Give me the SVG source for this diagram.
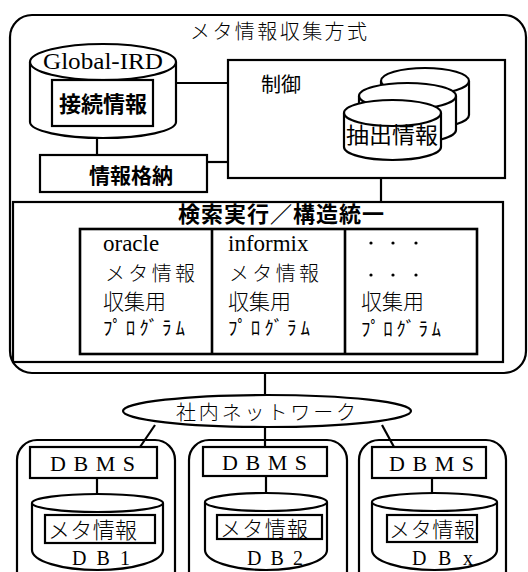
<svg xmlns="http://www.w3.org/2000/svg" width="528" height="572" viewBox="0 0 528 572">
<style>
.s{fill:none;stroke:#000;stroke-width:2.2}
.w{fill:#fff;stroke:#000;stroke-width:2.2}
.t{stroke:#000;stroke-width:2.6;fill:none}
.jp{font-family:"Noto Sans CJK JP","Noto Sans",sans-serif;fill:#000}
.jl{font-family:"Noto Sans CJK JP","Noto Sans",sans-serif;font-weight:300;fill:#000}
.jb{font-family:"Noto Sans CJK JP","Noto Sans",sans-serif;font-weight:bold;fill:#000}
.se{font-family:"Liberation Serif","Times New Roman",serif;fill:#000}
</style>
<rect width="528" height="572" fill="#fff"/>
<g id="connectors" class="s">
<line x1="176" y1="83" x2="228" y2="83"/>
<line x1="207" y1="162" x2="228" y2="162"/>
<line x1="97" y1="138" x2="97" y2="155"/>
<line x1="381" y1="178" x2="381" y2="202"/>
<line x1="265" y1="373" x2="265" y2="395"/>
<line x1="265" y1="427" x2="265" y2="447"/>
<line x1="155" y1="425" x2="140" y2="447"/>
<line x1="382" y1="425" x2="394" y2="447"/>
<line x1="97" y1="478" x2="97" y2="494"/>
<line x1="266" y1="476" x2="266" y2="494"/>
<line x1="432" y1="478" x2="432" y2="494"/>
</g>
<g id="system">
<rect class="s" x="10" y="15" width="516" height="358" rx="22"/>
<text class="jl" x="190" y="39" font-size="20" textLength="177" lengthAdjust="spacing">メタ情報収集方式</text>
</g>
<g id="global-ird">
<path class="w" d="M30,62 L30,122 A73,16 0 0 0 176,122 L176,62"/>
<ellipse class="w" cx="103" cy="62" rx="73" ry="18"/>
<text class="se" x="43" y="69" font-size="24" textLength="120" lengthAdjust="spacingAndGlyphs">Global-IRD</text>
<rect class="w" x="52" y="80" width="101" height="46"/>
<text class="jb" x="103" y="112" font-size="22" text-anchor="middle">接続情報</text>
</g>
<g id="store">
<rect class="w" x="40" y="155" width="167" height="37"/>
<text class="jb" x="131" y="183" font-size="21" text-anchor="middle">情報格納</text>
</g>
<g id="control">
<rect class="w" x="228" y="60" width="277" height="118"/>
<text class="jp" x="261" y="92" font-size="20">制御</text>
<path class="w" d="M381,81 L381,115 A44,13 0 0 0 469,115 L469,81"/>
<ellipse class="w" cx="425" cy="81" rx="44" ry="13"/>
<path class="w" d="M359,96 L359,130 A48.5,13 0 0 0 456,130 L456,96"/>
<ellipse class="w" cx="407.5" cy="96" rx="48.5" ry="13"/>
<path class="w" d="M344,113 L344,147 A48.5,13 0 0 0 441,147 L441,113"/>
<ellipse class="w" cx="392.5" cy="113" rx="48.5" ry="13"/>
<text class="jp" x="346" y="143" font-size="22" textLength="92" lengthAdjust="spacingAndGlyphs">抽出情報</text>
</g>
<g id="search">
<rect class="s" x="13" y="202" width="490" height="160"/>
<text class="jb" x="178" y="222" font-size="22" textLength="206" lengthAdjust="spacing">検索実行／構造統一</text>
<rect class="t" x="80" y="229" width="397" height="125"/>
<line class="t" x1="212" y1="229" x2="212" y2="354"/>
<line class="t" x1="345" y1="229" x2="345" y2="354"/>
</g>
<g id="col-oracle">
<text class="se" x="103" y="251" font-size="23">oracle</text>
<text class="jl" x="105" y="281" font-size="20" textLength="90" lengthAdjust="spacing">メタ情報</text>
<text class="jl" x="103" y="309" font-size="21">収集用</text>
<text class="jp" x="103" y="335" font-size="19" textLength="82" lengthAdjust="spacing">ﾌﾟﾛｸﾞﾗﾑ</text>
</g>
<g id="col-informix">
<text class="se" x="228" y="251" font-size="23">informix</text>
<text class="jl" x="229" y="281" font-size="20" textLength="90" lengthAdjust="spacing">メタ情報</text>
<text class="jl" x="228" y="309" font-size="21">収集用</text>
<text class="jp" x="228" y="335" font-size="19" textLength="82" lengthAdjust="spacing">ﾌﾟﾛｸﾞﾗﾑ</text>
</g>
<g id="col-other">
<circle cx="371" cy="243" r="1.6"/><circle cx="393" cy="243" r="1.6"/><circle cx="416" cy="243" r="1.6"/>
<circle cx="371" cy="275" r="1.6"/><circle cx="393" cy="275" r="1.6"/><circle cx="416" cy="275" r="1.6"/>
<text class="jl" x="361" y="309" font-size="21">収集用</text>
<text class="jp" x="361" y="336" font-size="19" textLength="80" lengthAdjust="spacing">ﾌﾟﾛｸﾞﾗﾑ</text>
</g>
<g id="network">
<ellipse class="w" cx="267" cy="411" rx="144" ry="16"/>
<text class="jl" x="176" y="420" font-size="20" textLength="180" lengthAdjust="spacing">社内ネットワーク</text>
</g>
<g id="db1">
<rect class="s" x="17" y="440" width="158" height="170" rx="20"/>
<rect class="w" x="30" y="447" width="127" height="31"/>
<text class="se" x="50" y="471" font-size="22" textLength="85" lengthAdjust="spacing">DBMS</text>
<path class="w" d="M32,503 L32,550 A65.5,20 0 0 0 163,550 L163,503"/>
<ellipse class="w" cx="97.5" cy="503" rx="65.5" ry="9"/>
<rect class="w" x="45" y="515" width="110" height="28"/>
<text class="jl" x="48" y="538" font-size="22" textLength="89" lengthAdjust="spacing">メタ情報</text>
<text class="se" x="72" y="565" font-size="20" textLength="58" lengthAdjust="spacing">DB1</text>
</g>
<g id="db2">
<rect class="s" x="189" y="440" width="158" height="170" rx="20"/>
<rect class="w" x="203" y="447" width="124" height="29"/>
<text class="se" x="222" y="470" font-size="22" textLength="85" lengthAdjust="spacing">DBMS</text>
<path class="w" d="M205,502 L205,550 A61,20 0 0 0 327,550 L327,502"/>
<ellipse class="w" cx="266" cy="502" rx="61" ry="9"/>
<rect class="w" x="217" y="515" width="105" height="24"/>
<text class="jl" x="220" y="536" font-size="21" textLength="88" lengthAdjust="spacing">メタ情報</text>
<text class="se" x="247" y="565" font-size="20" textLength="56" lengthAdjust="spacing">DB2</text>
</g>
<g id="dbx">
<rect class="s" x="359" y="440" width="147" height="170" rx="20"/>
<rect class="w" x="372" y="447" width="114" height="31"/>
<text class="se" x="389" y="471" font-size="22" textLength="85" lengthAdjust="spacing">DBMS</text>
<path class="w" d="M372,502 L372,550 A62.5,20 0 0 0 497,550 L497,502"/>
<ellipse class="w" cx="434.5" cy="502" rx="62.5" ry="9"/>
<rect class="w" x="387" y="515" width="90" height="27"/>
<text class="jl" x="389" y="537" font-size="21" textLength="86" lengthAdjust="spacing">メタ情報</text>
<text class="se" x="412" y="565" font-size="20" textLength="61" lengthAdjust="spacing">DBx</text>
</g>
</svg>
